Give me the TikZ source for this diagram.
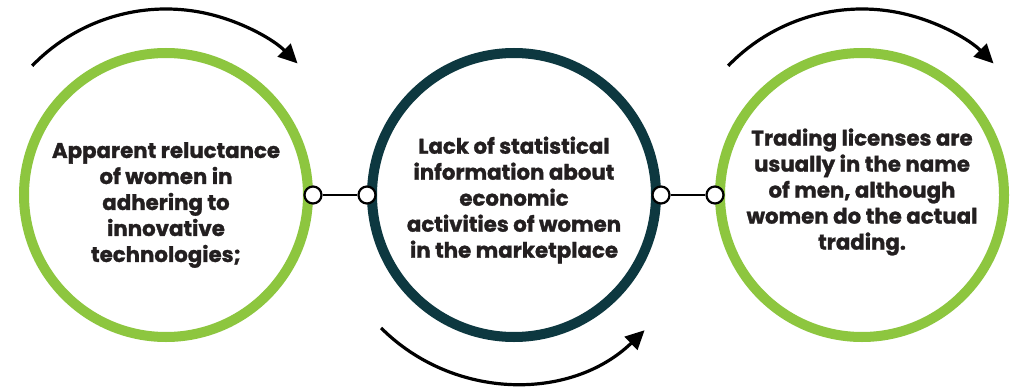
\documentclass[tikz,border=0pt]{standalone}
\usepackage{fontspec}
\setmainfont{Poppins}[BoldFont={Poppins Bold},BoldFeatures={FakeBold=1.3}]
\usetikzlibrary{positioning,arrows.meta,backgrounds}
\definecolor{leafgreen}{HTML}{8DC63F}
\definecolor{deepteal}{HTML}{0D3840}
\definecolor{inkgray}{HTML}{231F20}
\begin{document}
\begin{tikzpicture}[x=1pt,y=1pt,node distance=348pt]
    \tikzstyle{ring} = [circle,minimum size=284pt,line width=10pt,fill=white,preaction={draw=white,line width=36pt}]
    \tikzstyle{caption} = [text=inkgray,align=center,font=\bfseries\fontsize{21.3}{26}\selectfont]
    \tikzstyle{dot} = [circle,minimum size=17pt,inner sep=0pt,line width=2.2pt,draw=black,fill=white]
    \tikzstyle{turn} = [line width=3.2pt,-{Triangle[length=19pt,width=18pt]}]
    \useasboundingbox [fill=white] (0,0) rectangle (1014,389);
    \node (reluctance)[ring,draw=leafgreen] at (166,194) {};
    \node (statistics)[ring,draw=deepteal,right of=reluctance] {};
    \node (licenses)[ring,draw=leafgreen,right of=statistics] {};
    \node (reluctance text)[caption] at ([yshift=-10pt]reluctance.center) {Apparent reluctance\\of women in\\adhering to\\innovative\\technologies;};
    \node (statistics text)[caption] at ([yshift=-5pt]statistics.center) {Lack of statistical\\information about\\economic\\activities of women\\in the marketplace};
    \node (licenses text)[caption] at ([yshift=3pt]licenses.center) {Trading licenses are\\usually in the name\\of men, although\\women do the actual\\trading.};
    \begin{scope}[on background layer]
        \foreach \n in {reluctance,statistics,licenses}
            \foreach \r in {158,161,...,182}
                \fill [black,opacity=0.03] ([yshift=-7pt]\n.center) circle [radius=\r pt];
    \end{scope}
    \node (outA)[dot] at (reluctance.east) {};
    \node (inB)[dot] at (statistics.west) {};
    \node (outB)[dot] at (statistics.east) {};
    \node (inC)[dot] at (licenses.west) {};
    \draw [line width=2.2pt] (outA) -- (inB);
    \draw [line width=2.2pt] (outB) -- (inC);
    \draw [turn] ([shift={(136:186pt)}]reluctance.center) arc [start angle=136,end angle=45,radius=186pt];
    \draw [turn] ([shift={(225:188pt)}]statistics.center) arc [start angle=225,end angle=314,radius=188pt];
    \draw [turn] ([shift={(136:186pt)}]licenses.center) arc [start angle=136,end angle=45,radius=186pt];
\end{tikzpicture}
\end{document}
